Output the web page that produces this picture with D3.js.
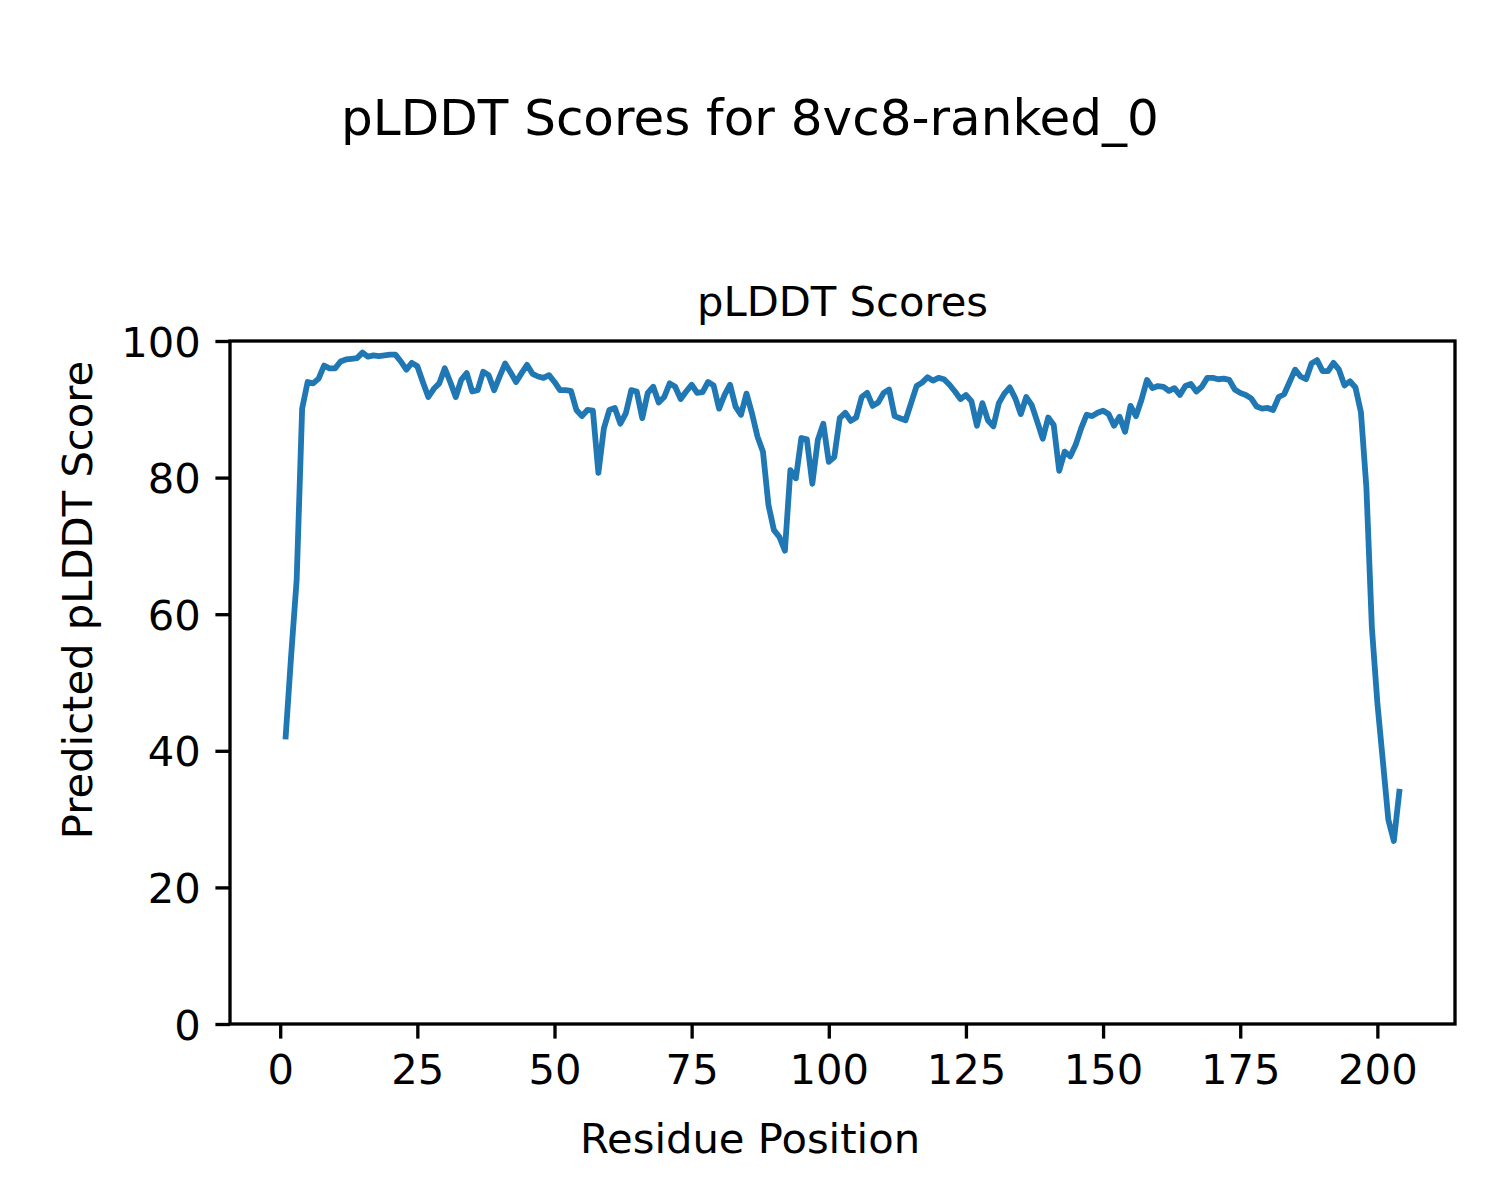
<!DOCTYPE html>
<html>
<head>
<meta charset="utf-8">
<script src="https://cdn.jsdelivr.net/npm/d3@7"></script>
<style>
  html, body { margin: 0; padding: 0; background: #ffffff; }
  svg { display: block; }
  text { font-family: "DejaVu Sans", sans-serif; fill: #000; }
</style>
</head>
<body>
<div id="chart"></div>
<script>
// ---- data ----
const residues = d3.range(1, 205);
const plddt = [
  42.1, 54.0, 65.0, 90.1, 94.0, 93.8, 94.5, 96.4, 96.0, 96.0,
  97.0, 97.3, 97.4, 97.5, 98.3, 97.7, 97.9, 97.8, 97.9, 98.0,
  98.0, 97.0, 95.8, 96.8, 96.3, 94.0, 91.8, 93.0, 93.8, 96.0,
  94.0, 91.8, 94.3, 95.3, 92.6, 92.8, 95.5, 95.0, 92.8, 94.8,
  96.7, 95.4, 94.0, 95.3, 96.5, 95.2, 94.8, 94.6, 95.0, 94.0,
  92.8, 92.8, 92.7, 89.9, 89.0, 89.9, 89.8, 80.7, 87.2, 89.9,
  90.2, 87.9, 89.4, 92.8, 92.6, 88.7, 92.4, 93.3, 91.0, 91.8,
  93.8, 93.3, 91.5, 92.6, 93.6, 92.4, 92.5, 94.0, 93.5, 90.1,
  92.1, 93.6, 90.4, 89.2, 92.3, 89.4, 86.0, 83.8, 76.0, 72.3,
  71.3, 69.3, 81.1, 79.9, 85.8, 85.6, 79.1, 85.5, 87.9, 82.3,
  83.0, 88.7, 89.5, 88.3, 88.8, 91.8, 92.4, 90.5, 91.0, 92.4,
  92.9, 89.0, 88.7, 88.4, 90.9, 93.4, 93.9, 94.7, 94.2, 94.6,
  94.4, 93.6, 92.6, 91.5, 92.1, 91.2, 87.6, 90.9, 88.4, 87.5,
  90.9, 92.3, 93.2, 91.6, 89.3, 91.8, 90.6, 88.2, 85.7, 88.8,
  87.7, 81.0, 83.8, 83.1, 84.8, 87.2, 89.2, 89.0, 89.5, 89.8,
  89.3, 87.6, 88.9, 86.7, 90.5, 89.0, 91.4, 94.3, 93.1, 93.4,
  93.3, 92.7, 93.1, 92.1, 93.4, 93.7, 92.6, 93.3, 94.6, 94.6,
  94.4, 94.5, 94.3, 92.9, 92.4, 92.1, 91.6, 90.4, 90.1, 90.2,
  89.9, 91.8, 92.2, 94.0, 95.8, 94.8, 94.4, 96.7, 97.2, 95.6,
  95.6, 96.8, 95.8, 93.5, 94.1, 93.2, 89.6, 78.5, 58.0, 47.0,
  38.5, 29.9, 26.8, 34.0
];
const xTicks = [0, 25, 50, 75, 100, 125, 150, 175, 200];
const yTicks = [0, 20, 40, 60, 80, 100];
const figTitle = "pLDDT Scores for 8vc8-ranked_0";
const axTitle = "pLDDT Scores";
const xLabel = "Residue Position";
const yLabel = "Predicted pLDDT Score";

// ---- layout ----
const W = 1500, H = 1200;
const plotL = 230, plotR = 1455, plotT = 341, plotB = 1024;
const fs = 41.7;
const tickLen = 14.6, tickPad = 14.6;

const svg = d3.select("#chart").append("svg")
  .attr("width", W).attr("height", H)
  .attr("viewBox", `0 0 ${W} ${H}`);

svg.append("rect").attr("width", W).attr("height", H).attr("fill", "#fff");

const xExt = d3.extent(residues);
const xMargin = (xExt[1] - xExt[0]) * 0.05;
const x = d3.scaleLinear().domain([xExt[0] - xMargin, xExt[1] + xMargin]).range([plotL, plotR]);
const y = d3.scaleLinear().domain([0, 100]).range([plotB, plotT]);

// line
const line = d3.line().x((d, i) => x(residues[i])).y(d => y(d));
svg.append("path")
  .datum(plddt)
  .attr("d", line)
  .attr("fill", "none")
  .attr("stroke", "#1f77b4")
  .attr("stroke-width", 5.8)
  .attr("stroke-linejoin", "round")
  .attr("stroke-linecap", "square");

// axes
const xAxis = d3.axisBottom(x).tickValues(xTicks).tickSize(tickLen).tickPadding(tickPad).tickSizeOuter(0);
const gx = svg.append("g").attr("transform", `translate(0,${plotB})`).call(xAxis);
const yAxis = d3.axisLeft(y).tickValues(yTicks).tickSize(tickLen).tickPadding(tickPad).tickSizeOuter(0);
const gy = svg.append("g").attr("transform", `translate(${plotL},0)`).call(yAxis);

[gx, gy].forEach(g => {
  g.select(".domain").remove();
  g.selectAll(".tick line").attr("stroke", "#000").attr("stroke-width", 3.33);
  g.selectAll(".tick text")
    .attr("font-family", "DejaVu Sans")
    .attr("font-size", fs)
    .attr("fill", "#000");
});
gy.selectAll(".tick text").attr("dy", "0.36em");
gx.selectAll(".tick text").attr("dy", "0.75em");

// frame
svg.append("rect")
  .attr("x", plotL).attr("y", plotT)
  .attr("width", plotR - plotL).attr("height", plotB - plotT)
  .attr("fill", "none").attr("stroke", "#000").attr("stroke-width", 3.33)
  .attr("stroke-linecap", "square");

// titles and labels
svg.append("text")
  .attr("x", W / 2).attr("y", 135)
  .attr("text-anchor", "middle")
  .attr("font-size", 50)
  .text(figTitle);

svg.append("text")
  .attr("x", (plotL + plotR) / 2).attr("y", plotT - 25)
  .attr("text-anchor", "middle")
  .attr("font-size", fs)
  .text(axTitle);

svg.append("text")
  .attr("x", W / 2).attr("y", 1153)
  .attr("text-anchor", "middle")
  .attr("font-size", fs)
  .text(xLabel);

svg.append("text")
  .attr("transform", `translate(92,${H / 2}) rotate(-90)`)
  .attr("text-anchor", "middle")
  .attr("font-size", fs)
  .text(yLabel);
</script>
</body>
</html>
